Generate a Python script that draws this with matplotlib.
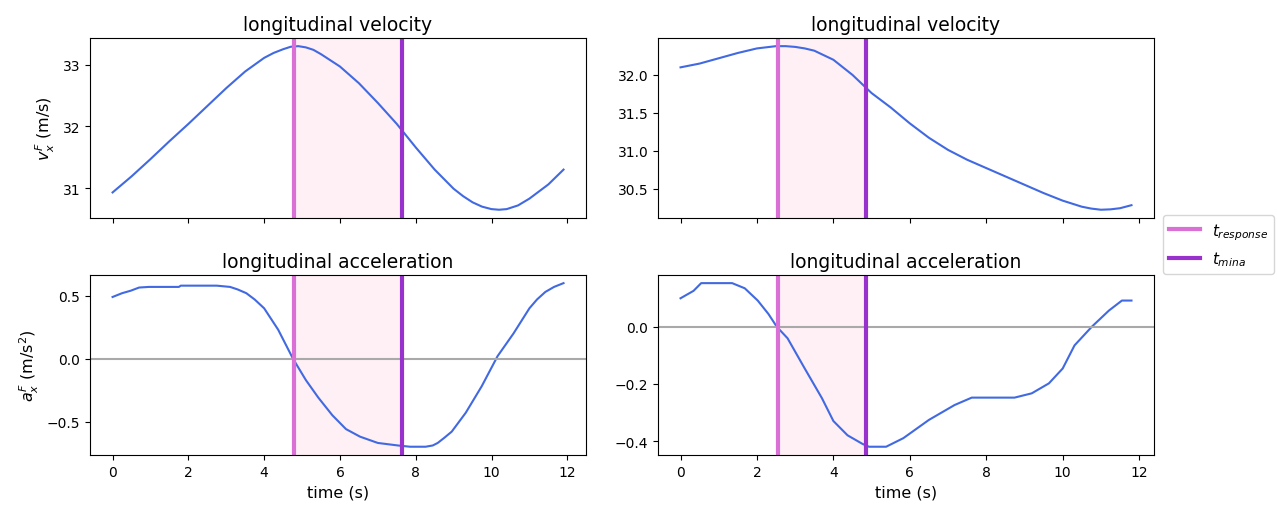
import matplotlib
matplotlib.use("Agg")
import matplotlib.pyplot as plt
import numpy as np

# left case
t_v1 = [0, 0.5, 1, 1.5, 2, 2.5, 3, 3.5, 4, 4.25, 4.5, 4.7, 4.9, 5.1, 5.3, 5.5, 6,
        6.5, 7, 7.5, 8, 8.5, 9, 9.25, 9.5, 9.75, 10, 10.2, 10.4, 10.7, 11, 11.5, 11.9]
v1 = [30.93, 31.19, 31.47, 31.76, 32.04, 32.33, 32.62, 32.89, 33.11, 33.19, 33.25,
      33.29, 33.30, 33.28, 33.24, 33.17, 32.97, 32.70, 32.38, 32.04, 31.66, 31.30,
      30.99, 30.87, 30.77, 30.70, 30.66, 30.65, 30.66, 30.72, 30.83, 31.06, 31.30]
t_a1 = [0, 0.25, 0.48, 0.7, 0.96, 1.75, 1.8, 2.75, 3.1, 3.3, 3.53, 3.75, 4.0, 4.37,
        4.76, 5.1, 5.43, 5.8, 6.16, 6.53, 7.0, 7.53, 7.85, 8.26, 8.45, 8.58, 8.75,
        8.95, 9.32, 9.74, 10.16, 10.58, 11.0, 11.2, 11.42, 11.65, 11.9]
a1 = [0.49, 0.52, 0.54, 0.565, 0.57, 0.57, 0.58, 0.58, 0.57, 0.55, 0.52, 0.47, 0.40,
      0.23, 0.0, -0.17, -0.31, -0.45, -0.56, -0.62, -0.67, -0.69, -0.70, -0.70,
      -0.69, -0.67, -0.63, -0.58, -0.43, -0.22, 0.02, 0.20, 0.40, 0.47, 0.53, 0.57,
      0.60]
t_resp1, t_mina1 = 4.78, 7.65

# right case
t_v2 = [0, 0.5, 1, 1.5, 2, 2.5, 2.75, 3, 3.25, 3.5, 4, 4.5, 5, 5.5, 6, 6.5, 7,
        7.5, 8, 8.5, 9, 9.5, 10, 10.5, 10.75, 11, 11.25, 11.5, 11.8]
v2 = [32.10, 32.15, 32.22, 32.29, 32.35, 32.38, 32.38, 32.37, 32.35, 32.32, 32.20,
      32.00, 31.76, 31.57, 31.36, 31.17, 31.01, 30.88, 30.77, 30.66, 30.55, 30.44,
      30.34, 30.26, 30.235, 30.22, 30.225, 30.24, 30.28]
t_a2 = [0, 0.34, 0.54, 1.35, 1.68, 2.02, 2.3, 2.52, 2.8, 3.25, 3.7, 4.0, 4.37, 4.76,
        4.93, 5.38, 5.83, 6.5, 7.17, 7.62, 8.74, 9.19, 9.64, 10.0, 10.31, 10.76,
        11.21, 11.55, 11.8]
a2 = [0.10, 0.126, 0.153, 0.153, 0.135, 0.092, 0.045, 0.0, -0.04, -0.146, -0.25,
      -0.33, -0.38, -0.41, -0.42, -0.42, -0.39, -0.326, -0.274, -0.248, -0.248,
      -0.233, -0.198, -0.146, -0.065, 0.0, 0.057, 0.092, 0.092]
t_resp2, t_mina2 = 2.55, 4.85

fig, axs = plt.subplots(2, 2, figsize=(12.77, 5.06), dpi=100, sharex='col')
plt.subplots_adjust(left=0.0705, right=0.9037, top=0.923, bottom=0.099,
                    wspace=0.145, hspace=0.317)

cases = [(t_v1, v1, t_a1, a1, t_resp1, t_mina1),
         (t_v2, v2, t_a2, a2, t_resp2, t_mina2)]

for col, (tv, v, ta, a, tr, tm) in enumerate(cases):
    ax_v = axs[0, col]
    ax_a = axs[1, col]
    ax_v.plot(tv, v, color='royalblue')
    ax_a.plot(ta, a, color='royalblue')
    ax_a.axhline(0, color='darkgrey')
    for ax in (ax_v, ax_a):
        ax.axvspan(tr, tm, color='lavenderblush', zorder=0)
        l1 = ax.axvline(tr, color='orchid', lw=3, label=r'$t_{response}$')
        l2 = ax.axvline(tm, color='darkorchid', lw=3, label=r'$t_{mina}$')
    ax_v.set_title('longitudinal velocity', fontsize=13.5)
    ax_a.set_title('longitudinal acceleration', fontsize=13.5)
    ax_a.set_xlabel('time (s)', fontsize=11.5)
    ax_a.set_xticks([0, 2, 4, 6, 8, 10, 12])

axs[0, 0].set_ylabel(r'$v_x^F$ (m/s)', fontsize=11.5)
axs[1, 0].set_ylabel(r'$a_x^F$ (m/s$^2$)', fontsize=11.5)
axs[0, 0].set_yticks([31, 32, 33])
axs[1, 0].set_yticks([-0.5, 0.0, 0.5])

fig.legend(handles=[l1, l2], loc='center left', bbox_to_anchor=(0.9048, 0.515),
           fontsize=11)

plt.savefig('out.png')
